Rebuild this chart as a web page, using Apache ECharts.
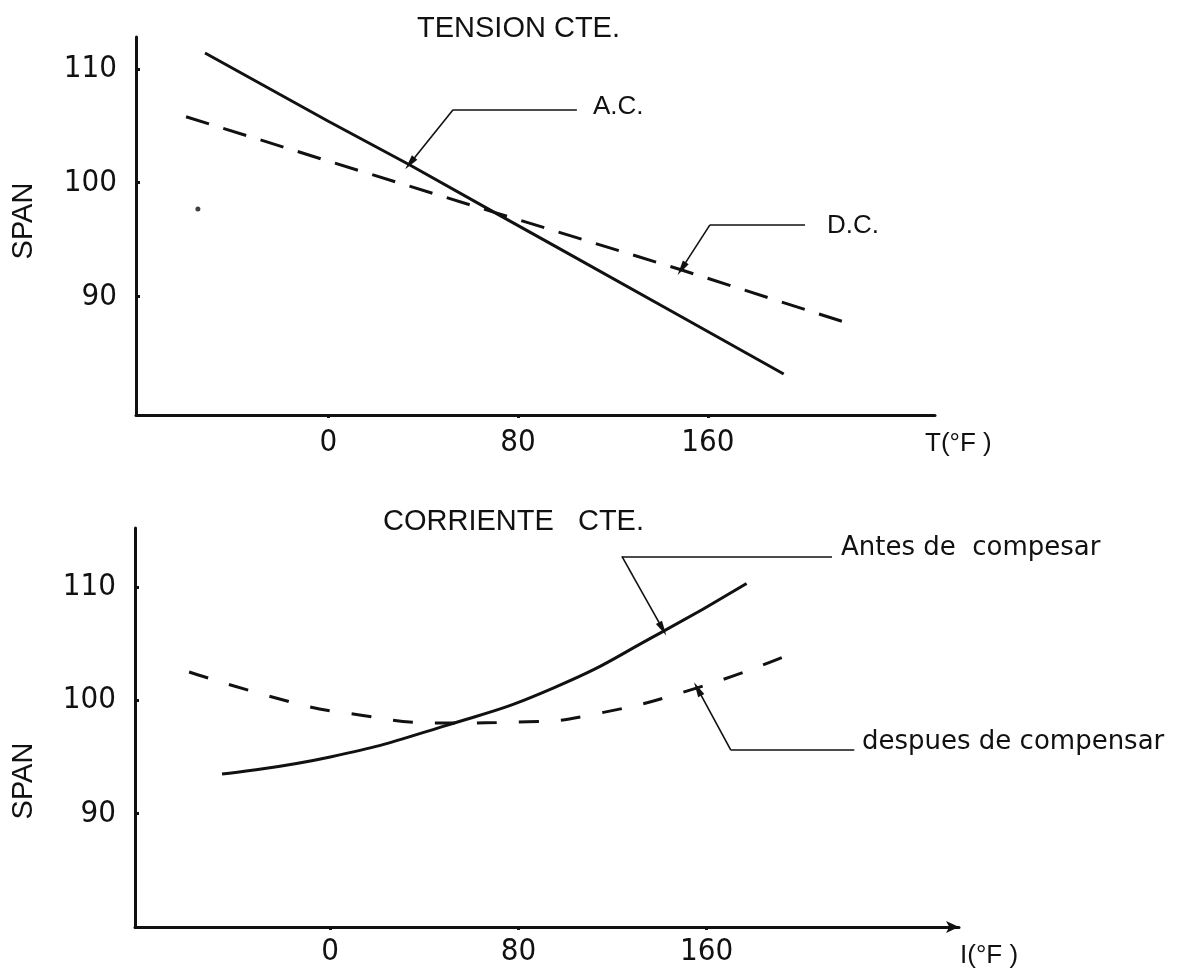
<!DOCTYPE html>
<html><head><meta charset="utf-8">
<script src="https://cdn.jsdelivr.net/npm/echarts@6/dist/echarts.min.js"></script>
<style>html,body{margin:0;padding:0;background:#fff}#c{width:1178px;height:980px}</style>
</head><body><div id="c"></div>
<script>
// ---------- data ----------
// Top panel: TENSION CTE.
const acTemp   = [-52, 0, 34, 70, 95, 150, 192];
const acSpan   = [111.4, 105.4, 101.6, 97.4, 94.5, 88.1, 83.2];
const dcTemp   = [-60, 0, 70, 148, 220];
const dcSpan   = [105.8, 101.9, 97.4, 92.4, 87.6];
const speckTemp = [-55];
const speckSpan = [97.7];
// Bottom panel: CORRIENTE CTE.
const antesTemp   = [-46, 0, 48, 95, 140, 177];
const antesSpan   = [93.5, 95.0, 97.7, 101.1, 105.9, 110.3];
const despuesTemp = [-60, -16, 6, 48, 84, 113, 156, 196];
const despuesSpan = [102.5, 99.8, 98.9, 98.0, 98.1, 98.8, 101.1, 104.1];
// Tick labels
const xTicks = [0, 80, 160];
const yTicks = [90, 100, 110];

const zip = (xs, ys) => xs.map((x, i) => [x, ys[i]]);

const NUM_FONT = "'Liberation Sans Narrow', 'DejaVu Sans Condensed', 'Liberation Sans', sans-serif";
const TXT_FONT = "'Liberation Sans', Arial, sans-serif";
const LOW_FONT = "'DejaVu Sans', sans-serif";
const INK = '#111';

const arrowPath = 'path://M3,0 L6,14 L0,14 Z';

function leader(tip, elbow, endX) {
  return [
    [{ coord: elbow, symbol: 'none' }, { coord: tip, symbol: arrowPath, symbolSize: [7, 15] }],
    [{ coord: elbow, symbol: 'none' }, { coord: [endX, elbow[1]], symbol: 'none' }]
  ];
}
function markLineOf(data) {
  return {
    silent: true, animation: false, symbol: ['none', 'none'],
    label: { show: false },
    lineStyle: { color: INK, width: 1.6, type: 'solid' },
    emphasis: { disabled: true },
    data: data
  };
}

const xAxisBase = (gi, min, max, withArrow, labelMargin) => ({
  type: 'value', gridIndex: gi, min: min, max: max,
  splitLine: { show: false },
  axisLine: { show: true, onZero: false, lineStyle: { color: INK, width: 3 },
    symbol: withArrow ? ['none', 'arrow'] : ['none', 'none'], symbolSize: [9, 13] },
  axisTick: { show: true, length: 3, lineStyle: { color: INK, width: 3 }, customValues: xTicks },
  axisLabel: { show: true, customValues: xTicks, margin: labelMargin, color: INK,
    fontSize: 31, fontFamily: NUM_FONT }
});
const yAxisBase = (gi, min, max) => ({
  type: 'value', gridIndex: gi, min: min, max: max,
  splitLine: { show: false },
  axisLine: { show: true, onZero: false, lineStyle: { color: INK, width: 3 } },
  axisTick: { show: true, inside: true, length: 4, lineStyle: { color: INK, width: 3 }, customValues: yTicks },
  axisLabel: { show: true, customValues: yTicks, margin: 19, color: INK,
    fontSize: 31, fontFamily: NUM_FONT }
});

const chart = echarts.init(document.getElementById('c'), null, { renderer: 'canvas' });

function txt(text, x, y, size, family, opts) {
  opts = opts || {};
  return {
    type: 'text', x: x, y: y, rotation: opts.rotation || 0, silent: true,
    style: { text: text, fill: INK, fontSize: size, fontFamily: family,
      align: opts.align || 'left', verticalAlign: 'middle',
      textAlign: opts.align || 'left', textVerticalAlign: 'middle' }
  };
}

const option = {
  animation: false,
  backgroundColor: '#fff',
  grid: [
    { left: 136, top: 37, right: 1178 - 935, bottom: 980 - 415, containLabel: false, outerBoundsMode: 'none' },
    { left: 135, top: 528, right: 1178 - 959, bottom: 980 - 927, containLabel: false, outerBoundsMode: 'none' }
  ],
  xAxis: [
    xAxisBase(0, -81.1, 255.8, false, 12),
    xAxisBase(1, -83.0, 267.3, true, 9)
  ],
  yAxis: [
    yAxisBase(0, 79.6, 112.8),
    yAxisBase(1, 80.0, 115.2)
  ],
  series: [
    { name: 'A.C.', type: 'line', xAxisIndex: 0, yAxisIndex: 0, data: zip(acTemp, acSpan),
      symbol: 'none', smooth: false, lineStyle: { color: INK, width: 3 },
      markLine: markLineOf(leader([34.4, 101.7], [52.6, 106.4], 104.8)) },
    { name: 'D.C.', type: 'line', xAxisIndex: 0, yAxisIndex: 0, data: zip(dcTemp, dcSpan),
      symbol: 'none', smooth: false, lineStyle: { color: INK, width: 3, type: [24, 15] },
      markLine: markLineOf(leader([149.0, 92.46], [160.9, 96.3], 201.0)) },
    { name: 'speck', type: 'scatter', xAxisIndex: 0, yAxisIndex: 0, data: zip(speckTemp, speckSpan),
      symbol: 'circle', symbolSize: 5, itemStyle: { color: INK }, silent: true },
    { name: 'Antes de compesar', type: 'line', xAxisIndex: 1, yAxisIndex: 1, data: zip(antesTemp, antesSpan),
      symbol: 'none', smooth: 0.5, lineStyle: { color: INK, width: 3 },
      markLine: markLineOf(leader([141.3, 106.3], [124.0, 112.7], 213.3)) },
    { name: 'despues de compensar', type: 'line', xAxisIndex: 1, yAxisIndex: 1, data: zip(despuesTemp, despuesSpan),
      symbol: 'none', smooth: 0.5, lineStyle: { color: INK, width: 3, type: [20, 22] },
      markLine: markLineOf(leader([156.2, 101.0], [170.3, 95.6], 222.8)) }
  ],
  graphic: [
    txt('TENSION CTE.', 417, 29, 29, TXT_FONT),
    txt('CORRIENTE   CTE.', 383, 522, 29, TXT_FONT),
    txt('A.C.', 593, 107, 26, TXT_FONT),
    txt('D.C.', 827, 226, 26, TXT_FONT),
    txt('Antes de  compesar', 841, 548, 26, LOW_FONT),
    txt('despues de compensar', 862, 742, 26, LOW_FONT),
    txt('SPAN', 24, 221, 29, TXT_FONT, { rotation: Math.PI / 2, align: 'center' }),
    txt('SPAN', 24, 781, 29, TXT_FONT, { rotation: Math.PI / 2, align: 'center' }),
    txt('T(°F )', 925, 444, 26, TXT_FONT),
    txt('I(°F )', 960, 956, 26, TXT_FONT)
  ]
};
chart.setOption(option);
</script>
</body></html>
